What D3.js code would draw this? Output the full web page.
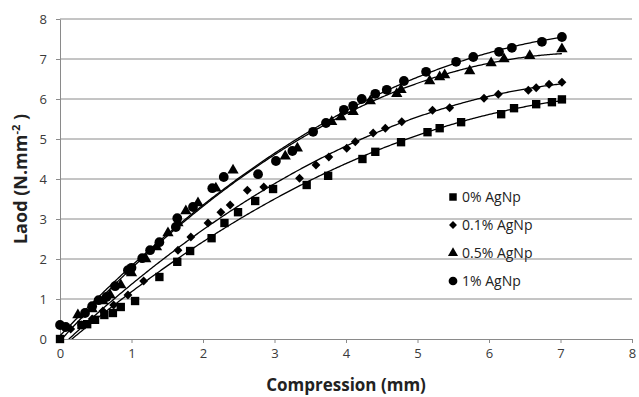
<!DOCTYPE html>
<html>
<head>
<meta charset="utf-8">
<script src="https://cdn.jsdelivr.net/npm/d3@7"></script>
<style>
  body { margin: 0; background: #fff; }
  svg { display: block; font-family: "Open Sans", "Liberation Sans", sans-serif; }
</style>
</head>
<body>
<script>
// data
var x0 = [0,0.3,0.38,0.49,0.62,0.74,0.85,1.05,1.39,1.64,1.82,2.12,2.3,2.49,2.73,2.98,3.45,3.75,4.23,4.41,4.77,5.14,5.31,5.61,6.17,6.35,6.66,6.88,7.02];
var y0 = [0,0.35,0.37,0.48,0.6,0.65,0.8,0.95,1.55,1.93,2.2,2.52,2.9,3.17,3.45,3.75,3.85,4.08,4.5,4.68,4.92,5.17,5.27,5.42,5.62,5.77,5.87,5.92,5.99];

var x1 = [0.15,0.3,0.45,0.6,0.75,0.95,1.17,1.65,1.83,2.07,2.25,2.38,2.62,2.85,3.35,3.58,3.76,4.01,4.13,4.38,4.55,4.78,5.21,5.45,5.93,6.13,6.55,6.66,6.84,7.02];
var y1 = [0.25,0.35,0.5,0.7,0.85,1.1,1.45,2.22,2.55,2.9,3.17,3.35,3.72,3.8,4.02,4.35,4.55,4.77,4.93,5.15,5.27,5.43,5.72,5.78,6.02,6.12,6.22,6.28,6.37,6.42];

var x2 = [0.25,0.45,0.6,0.7,0.85,1.0,1.2,1.35,1.51,1.65,1.76,1.93,2.18,2.42,3.15,3.32,3.8,3.93,4.1,4.34,4.71,4.77,5.17,5.31,5.38,5.73,6.03,6.21,6.57,7.02];
var y2 = [0.6,0.75,0.95,1.1,1.35,1.65,2.0,2.3,2.65,2.9,3.2,3.4,3.77,4.22,4.57,4.77,5.43,5.55,5.68,5.95,6.13,6.23,6.45,6.55,6.6,6.7,6.9,7.0,7.08,7.25];

var x3 = [0,0.08,0.35,0.45,0.54,0.65,0.77,0.95,1.0,1.15,1.26,1.39,1.62,1.64,1.86,2.13,2.29,2.77,3.02,3.25,3.54,3.72,3.97,4.1,4.22,4.41,4.57,4.81,5.12,5.54,5.78,6.14,6.32,6.74,7.02];
var y3 = [0.35,0.3,0.65,0.82,0.97,1.05,1.32,1.72,1.78,2.02,2.22,2.42,2.8,3.02,3.3,3.77,4.05,4.12,4.45,4.7,5.18,5.4,5.73,5.83,6.0,6.13,6.23,6.45,6.68,6.93,7.05,7.18,7.28,7.43,7.55];

var names = ["0% AgNp", "0.1% AgNp", "0.5% AgNp", "1% AgNp"];
var xTicks = [0,1,2,3,4,5,6,7,8];
var yTicks = [0,1,2,3,4,5,6,7,8];

var series = [
  {name: names[0], xs: x0, ys: y0, shape: d3.symbolSquare, size: 70},
  {name: names[1], xs: x1, ys: y1, shape: d3.symbolDiamond2, size: 50},
  {name: names[2], xs: x2, ys: y2, shape: d3.symbolTriangle, size: 55},
  {name: names[3], xs: x3, ys: y3, shape: d3.symbolCircle, size: 75}
];

var W = 639, H = 397;
var margin = {top: 19, right: 7, bottom: 58, left: 60};
var width = W - margin.left - margin.right,
    height = H - margin.top - margin.bottom;

var svg = d3.select('body').append('svg')
  .attr('width', W)
  .attr('height', H);

var g = svg.append('g')
  .attr('transform', 'translate(' + margin.left + ',' + margin.top + ')');

var x = d3.scaleLinear().domain([0, 8]).range([0, width]);
var y = d3.scaleLinear().domain([0, 8]).range([height, 0]);

// gridlines
g.selectAll('.grid')
  .data(yTicks.slice(1))
  .enter().append('line')
  .attr('x1', 0).attr('x2', width)
  .attr('y1', function(d) { return y(d); })
  .attr('y2', function(d) { return y(d); })
  .attr('stroke', '#8a8a8a')
  .attr('stroke-width', 1);

var xAxis = d3.axisBottom(x).tickValues(xTicks).tickSize(4).tickPadding(6).tickSizeOuter(0);
var yAxis = d3.axisLeft(y).tickValues(yTicks).tickSize(4).tickPadding(9).tickSizeOuter(0);

var gx = g.append('g')
  .attr('transform', 'translate(0,' + height + ')')
  .call(xAxis);
var gy = g.append('g').call(yAxis);

[gx, gy].forEach(function(a) {
  a.select('.domain').attr('stroke', '#8a8a8a');
  a.selectAll('.tick line').attr('stroke', '#8a8a8a');
  a.selectAll('.tick text')
    .attr('fill', '#3a3a3a')
    .style('font-size', '13px')
    .style('font-family', '"Open Sans", sans-serif');
});

// quadratic least squares trendline
function quadFit(xs, ys) {
  var n = xs.length, s = [0,0,0,0,0], t = [0,0,0];
  for (var i = 0; i < n; i++) {
    var xi = xs[i], p = 1;
    for (var k = 0; k < 5; k++) { s[k] += p; if (k < 3) t[k] += p * ys[i]; p *= xi; }
  }
  var A = [[s[0], s[1], s[2], t[0]], [s[1], s[2], s[3], t[1]], [s[2], s[3], s[4], t[2]]];
  for (var c = 0; c < 3; c++) {
    for (var r = c + 1; r < 3; r++) {
      var f = A[r][c] / A[c][c];
      for (var j = c; j < 4; j++) A[r][j] -= f * A[c][j];
    }
  }
  var coef = [0,0,0];
  for (var r2 = 2; r2 >= 0; r2--) {
    var v = A[r2][3];
    for (var j2 = r2 + 1; j2 < 3; j2++) v -= A[r2][j2] * coef[j2];
    coef[r2] = v / A[r2][r2];
  }
  return function(xv) { return coef[0] + coef[1] * xv + coef[2] * xv * xv; };
}

svg.append('clipPath').attr('id', 'clip')
  .append('rect').attr('width', width).attr('height', height);

var line = d3.line()
  .x(function(d) { return x(d[0]); })
  .y(function(d) { return y(d[1]); });

series.forEach(function(s) {
  var f = quadFit(s.xs, s.ys);
  var pts = d3.range(0, 7.0201, 0.02).map(function(v) { return [v, f(v)]; })
    .filter(function(p) { return p[1] >= -0.05; });

  g.selectAll(null)
    .data(s.xs)
    .enter().append('path')
    .attr('d', d3.symbol().type(s.shape).size(s.size))
    .attr('transform', function(d, i) {
      return 'translate(' + x(d) + ',' + y(s.ys[i]) + ')';
    })
    .attr('fill', '#000');

  g.append('path')
    .datum(pts)
    .attr('clip-path', 'url(#clip)')
    .attr('d', line)
    .attr('fill', 'none')
    .attr('stroke', '#000')
    .attr('stroke-width', 1.3);
});

// legend
var legend = svg.selectAll('.legend')
  .data(series)
  .enter().append('g')
  .attr('transform', function(d, i) { return 'translate(453,' + (197 + i * 28) + ')'; });

legend.append('path')
  .attr('d', function(d) { return d3.symbol().type(d.shape).size(d.size * 0.8)(); })
  .attr('fill', '#000');

legend.append('text')
  .attr('x', 9)
  .attr('y', 5)
  .style('font-size', '14px')
  .attr('fill', '#222')
  .text(function(d) { return d.name; });

// axis titles
svg.append('text')
  .attr('x', margin.left + width / 2)
  .attr('y', 391)
  .attr('text-anchor', 'middle')
  .style('font-size', '17px')
  .style('font-weight', 'bold')
  .attr('fill', '#222')
  .text('Compression (mm)');

var yl = svg.append('text')
  .attr('transform', 'translate(27,179) rotate(-90)')
  .attr('text-anchor', 'middle')
  .style('font-size', '18px')
  .style('font-weight', 'bold')
  .attr('fill', '#222');
yl.append('tspan').text('Laod (N.mm');
yl.append('tspan').attr('dy', -7).style('font-size', '11px').text('-2');
yl.append('tspan').attr('dy', 7).text(' )');
</script>
</body>
</html>
